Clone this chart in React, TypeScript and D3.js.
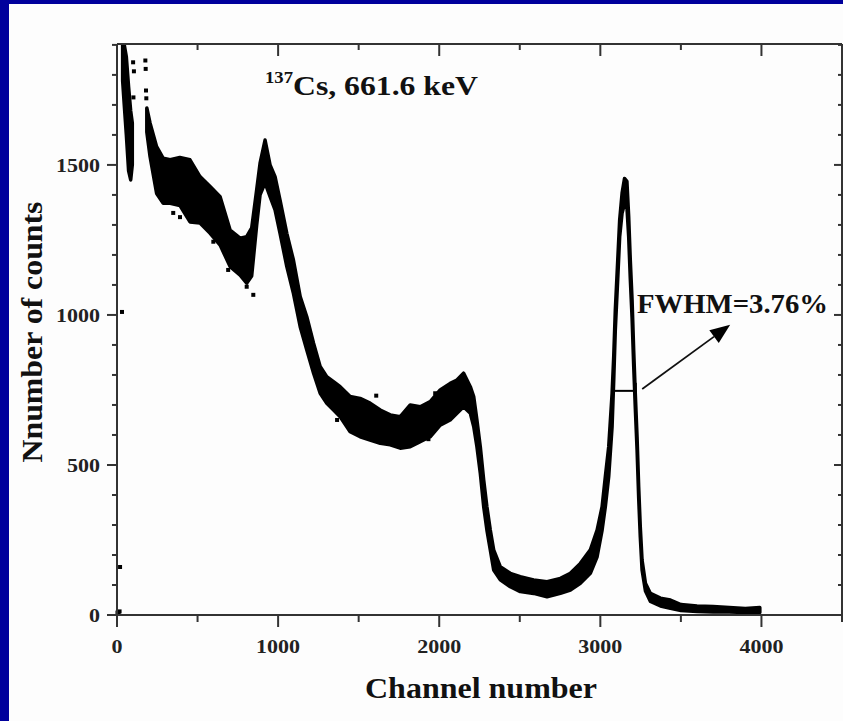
import React from 'react';
import * as d3 from 'd3';

const W = 843;
const H = 721;

// Axis ticks
const xMajorTicks = [0, 1000, 2000, 3000, 4000];
const yMajorTicks = [0, 500, 1000, 1500];

// Narrow strip at the very low channels (channel, upper, lower envelope)
const stripCh = [35, 45, 58, 72, 85, 95];
const stripHi = [1900, 1900, 1860, 1760, 1680, 1640];
const stripLo = [1780, 1700, 1600, 1480, 1450, 1500];

// Main spectrum band (channel, upper, lower envelope of the scattered counts)
const bandCh = [185, 205, 246, 287, 330, 390, 453, 515, 578, 640, 702, 764, 805, 836, 867, 888, 919, 950, 981, 1012, 1054, 1095, 1137, 1178, 1220, 1261, 1302, 1344, 1385, 1447, 1509, 1571, 1634, 1696, 1758, 1820, 1882, 1944, 2006, 2068, 2110, 2151, 2193, 2214, 2234, 2255, 2276, 2296, 2317, 2338, 2379, 2441, 2503, 2586, 2669, 2752, 2814, 2876, 2938, 2980, 3011, 3031, 3052, 3073, 3083, 3093, 3108, 3120, 3135, 3150, 3165, 3176, 3186, 3197, 3207, 3217, 3228, 3238, 3248, 3259, 3280, 3311, 3373, 3435, 3500, 3600, 3700, 3800, 3900, 3990];
const bandHi = [1690, 1640, 1561, 1522, 1517, 1525, 1517, 1461, 1428, 1394, 1283, 1256, 1261, 1290, 1417, 1506, 1583, 1500, 1461, 1383, 1272, 1183, 1061, 994, 906, 828, 794, 778, 761, 728, 722, 706, 683, 667, 661, 700, 694, 711, 750, 772, 783, 806, 761, 728, 650, 561, 450, 361, 283, 217, 161, 139, 128, 117, 111, 122, 139, 172, 217, 283, 361, 461, 561, 739, 861, 1017, 1183, 1317, 1406, 1455, 1445, 1328, 1183, 1050, 883, 739, 594, 428, 294, 183, 106, 72, 56, 50, 35, 30, 28, 25, 22, 25];
const bandLo = [1610, 1528, 1405, 1372, 1372, 1365, 1310, 1306, 1272, 1233, 1161, 1133, 1106, 1130, 1300, 1400, 1440, 1394, 1350, 1272, 1161, 1072, 961, 883, 806, 739, 706, 683, 661, 611, 594, 583, 572, 567, 556, 561, 578, 594, 633, 650, 672, 694, 672, 628, 561, 472, 361, 283, 217, 150, 117, 94, 78, 72, 61, 72, 83, 106, 139, 194, 283, 361, 461, 628, 780, 950, 1120, 1260, 1340, 1370, 1360, 1260, 1120, 990, 830, 690, 550, 390, 260, 150, 80, 45, 30, 22, 15, 12, 10, 10, 8, 8];

// Isolated points
const dotCh = [3, 10, 16, 19, 31, 100, 105, 102, 176, 178, 180, 182, 349, 391, 598, 690, 805, 846, 1366, 1609, 1933, 1975];
const dotVal = [8, 4, 12, 160, 1010, 1842, 1812, 1725, 1848, 1820, 1748, 1722, 1340, 1326, 1244, 1150, 1094, 1067, 650, 731, 586, 739];

// FWHM marker and arrow (data coordinates)
const fwhmCh = [3078, 3220];
const fwhmLevel = 747;
const arrowFrom = [3260, 753];
const arrowTo = [3806, 967];

const FONT = '"Liberation Serif", "Times New Roman", serif';

export default function App() {
  const x = d3.scaleLinear().domain([0, 4500]).range([117, 842]);
  const y = d3.scaleLinear().domain([0, 1903]).range([615, 44]);

  const idx = (n: number) => d3.range(n);
  const mkArea = (ch: number[], hi: number[], lo: number[]) =>
    d3
      .area<number>()
      .x((i) => x(ch[i]))
      .y0((i) => y(lo[i]))
      .y1((i) => y(hi[i]))(idx(ch.length)) as string;

  const stripPath = mkArea(stripCh, stripHi, stripLo);
  const bandPath = mkArea(bandCh, bandHi, bandLo);

  const xMinor = d3.range(0, 4501, 500);
  const yMinor = d3.range(0, 1901, 100);

  const ax = '#333';

  // arrow geometry
  const ax0 = x(arrowFrom[0]);
  const ay0 = y(arrowFrom[1]);
  const ax1 = x(arrowTo[0]);
  const ay1 = y(arrowTo[1]);
  const dx = ax1 - ax0;
  const dy = ay1 - ay0;
  const len = Math.hypot(dx, dy);
  const ux = dx / len;
  const uy = dy / len;
  const headL = 20;
  const headW = 8;
  const bx = ax1 - ux * headL;
  const by = ay1 - uy * headL;
  const head = [
    [ax1, ay1],
    [bx - uy * headW, by + ux * headW],
    [bx + uy * headW, by - ux * headW],
  ]
    .map((p) => p.join(','))
    .join(' ');

  return (
    <svg
      width={W}
      height={H}
      style={{ position: 'absolute', left: 0, top: 0, display: 'block' }}
      xmlns="http://www.w3.org/2000/svg"
    >
      <rect x={0} y={0} width={W} height={H} fill="#fdfdfd" />
      <rect x={0} y={0} width={W} height={4} fill="#00009c" />
      <rect x={0} y={0} width={9} height={H} fill="#00009c" />

      {/* data */}
      <g fill="#000" stroke="#000" strokeWidth={3.5} strokeLinejoin="round">
        <path d={stripPath} />
        <path d={bandPath} />
      </g>
      <g fill="#000">
        {dotCh.map((c, i) => (
          <rect key={i} x={x(c) - 2} y={y(dotVal[i]) - 2} width={4} height={4} />
        ))}
      </g>

      {/* FWHM bar */}
      <g stroke="#000" strokeWidth={2}>
        <line x1={x(fwhmCh[0])} x2={x(fwhmCh[1])} y1={y(fwhmLevel)} y2={y(fwhmLevel)} />
        <line x1={x(fwhmCh[0])} x2={x(fwhmCh[0])} y1={y(fwhmLevel) - 8} y2={y(fwhmLevel) + 8} />
        <line x1={x(fwhmCh[1])} x2={x(fwhmCh[1])} y1={y(fwhmLevel) - 8} y2={y(fwhmLevel) + 8} />
      </g>
      {/* arrow */}
      <line x1={ax0} y1={ay0} x2={bx} y2={by} stroke="#111" strokeWidth={1.8} />
      <polygon points={head} fill="#000" />

      {/* frame */}
      <g stroke={ax} strokeWidth={2} fill="none">
        <line x1={x(0)} x2={x(4500)} y1={y(0)} y2={y(0)} />
        <line x1={x(0)} x2={x(4500)} y1={44} y2={44} />
        <line x1={x(0)} x2={x(0)} y1={44} y2={y(0)} />
        <line x1={x(4500)} x2={x(4500)} y1={44} y2={y(0)} />
        {xMinor.map((v) => {
          const major = v % 1000 === 0;
          return (
            <g key={'x' + v}>
              <line x1={x(v)} x2={x(v)} y1={y(0)} y2={y(0) + (major ? 12 : 7)} />
              <line x1={x(v)} x2={x(v)} y1={44} y2={44 + (major ? 12 : 6)} />
            </g>
          );
        })}
        {yMinor.map((v) => {
          const major = v % 500 === 0;
          return (
            <g key={'y' + v}>
              <line x1={x(0)} x2={x(0) - (major ? 10 : 5)} y1={y(v)} y2={y(v)} />
              <line x1={x(4500)} x2={x(4500) - (major ? 8 : 4)} y1={y(v)} y2={y(v)} />
            </g>
          );
        })}
      </g>

      {/* tick labels */}
      <g fontFamily={FONT} fontWeight="bold" fontSize={18} fill="#222">
        {xMajorTicks.map((v) => (
          <text
            key={'xl' + v}
            x={x(v)}
            y={653}
            textAnchor="middle"
            textLength={String(v).length * 11}
            lengthAdjust="spacingAndGlyphs"
          >
            {v}
          </text>
        ))}
        {yMajorTicks.map((v) => (
          <text
            key={'yl' + v}
            x={100}
            y={y(v) + 7}
            textAnchor="end"
            textLength={String(v).length * 11}
            lengthAdjust="spacingAndGlyphs"
          >
            {v}
          </text>
        ))}
      </g>

      {/* axis titles */}
      <text
        x={481}
        y={698}
        textAnchor="middle"
        fontFamily={FONT}
        fontWeight="bold"
        fontSize={29}
        textLength={232}
        lengthAdjust="spacingAndGlyphs"
        fill="#111"
      >
        Channel number
      </text>
      <text
        transform="translate(42,332) rotate(-90)"
        textAnchor="middle"
        fontFamily={FONT}
        fontWeight="bold"
        fontSize={29}
        textLength={261}
        lengthAdjust="spacingAndGlyphs"
        fill="#111"
      >
        Nnumber of counts
      </text>

      {/* annotations */}
      <text x={265} y={83} fontFamily={FONT} fontWeight="bold" fontSize={17} textLength={28} lengthAdjust="spacingAndGlyphs" fill="#111">
        137
      </text>
      <text x={293} y={95} fontFamily={FONT} fontWeight="bold" fontSize={27} textLength={185} lengthAdjust="spacingAndGlyphs" fill="#111">
        Cs, 661.6 keV
      </text>
      <text x={637} y={313} fontFamily={FONT} fontWeight="bold" fontSize={27} textLength={191} lengthAdjust="spacingAndGlyphs" fill="#111">
        FWHM=3.76%
      </text>
    </svg>
  );
}
